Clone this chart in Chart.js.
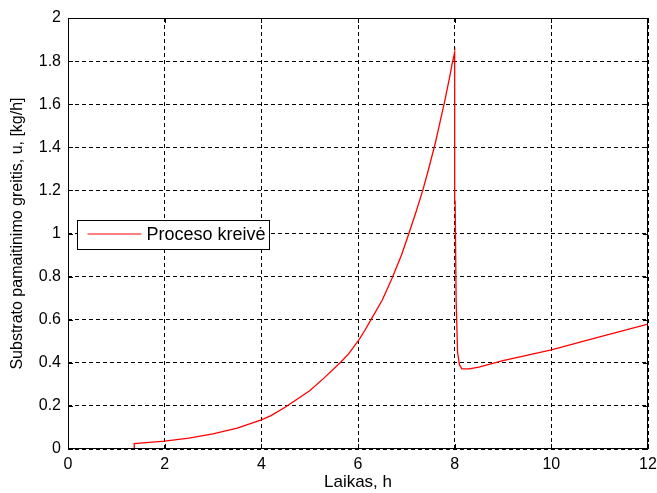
<!DOCTYPE html>
<html>
<head>
<meta charset="utf-8">
<script src="https://cdn.jsdelivr.net/npm/chart.js@4.4.1/dist/chart.umd.min.js"></script>
<style>
  html, body { margin: 0; padding: 0; background: #fff; }
  #wrap { width: 657px; height: 493px; }
</style>
</head>
<body>
<div id="wrap"><canvas id="c" width="657" height="493"></canvas></div>
<script>
// Feed rate over time (hours, kg/h)
const timeH = [0, 1.37, 1.37, 2, 2.5, 3, 3.5, 4, 4.2, 4.5, 5, 5.3, 5.63, 5.8, 6, 6.1, 6.27, 6.5, 6.7, 6.9, 7.03, 7.2, 7.34, 7.45, 7.6, 7.7, 7.8, 7.9, 7.95, 8.0,
               8.0, 8.01, 8.03, 8.06, 8.1, 8.15, 8.3, 8.5, 9, 10, 11, 12];
const feedRate = [0, 0, 0.025, 0.037, 0.05, 0.07, 0.097, 0.135, 0.155, 0.195, 0.27, 0.33, 0.4, 0.44, 0.5, 0.535, 0.6, 0.69, 0.79, 0.9, 0.985, 1.1, 1.2, 1.29, 1.42, 1.52, 1.62, 1.73, 1.79, 1.84,
                  1.15, 1.15, 0.69, 0.45, 0.39, 0.372, 0.372, 0.38, 0.41, 0.46, 0.52, 0.58];
const xTicks = [0, 2, 4, 6, 8, 10, 12];
const yTicks = [0, 0.2, 0.4, 0.6, 0.8, 1, 1.2, 1.4, 1.6, 1.8, 2];
const seriesLabel = 'Proceso kreivė';
const xTitle = 'Laikas, h';
const yTitle = 'Substrato pamaitinimo greitis, u, [kg/h]';

const points = timeH.map((t, i) => ({ x: t, y: feedRate[i] }));
const FONT = 'Liberation Sans, Arial, sans-serif';

// Solid frame, inward tick marks and a boxed legend inside the axes
const framePlugin = {
  id: 'frame',
  afterDraw(chart) {
    const { ctx, chartArea: a, scales } = chart;
    ctx.save();
    ctx.strokeStyle = '#000';
    ctx.lineWidth = 1;
    ctx.setLineDash([]);
    ctx.strokeRect(a.left + 0.5, a.top + 0.5, a.right - a.left - 1, a.bottom - a.top - 1);
    const tl = 5;
    ctx.beginPath();
    xTicks.forEach(v => {
      const px = Math.round(scales.x.getPixelForValue(v)) + 0.5;
      ctx.moveTo(px, a.bottom); ctx.lineTo(px, a.bottom - tl);
      ctx.moveTo(px, a.top); ctx.lineTo(px, a.top + tl);
    });
    yTicks.forEach(v => {
      const py = Math.round(scales.y.getPixelForValue(v)) + 0.5;
      ctx.moveTo(a.left, py); ctx.lineTo(a.left + tl, py);
      ctx.moveTo(a.right, py); ctx.lineTo(a.right - tl, py);
    });
    ctx.stroke();

    // legend box
    const lx = a.left + 9.5, ly = a.top + 202.5, lw = 192, lh = 29;
    ctx.fillStyle = '#fff';
    ctx.fillRect(lx, ly, lw, lh);
    ctx.strokeRect(lx, ly, lw, lh);
    ctx.strokeStyle = '#ff0000';
    ctx.beginPath();
    ctx.moveTo(lx + 10, ly + 13.5); ctx.lineTo(lx + 64, ly + 13.5);
    ctx.stroke();
    ctx.fillStyle = '#000';
    ctx.font = '18px ' + FONT;
    ctx.textBaseline = 'middle';
    ctx.textAlign = 'left';
    ctx.fillText(chart.data.datasets[0].label, lx + 69, ly + 14.5);
    ctx.restore();
  }
};

new Chart(document.getElementById('c'), {
  type: 'line',
  data: {
    datasets: [{
      label: seriesLabel,
      data: points,
      borderColor: '#ff0000',
      borderWidth: 1.3,
      pointRadius: 0,
      tension: 0,
      fill: false
    }]
  },
  options: {
    responsive: false,
    animation: false,
    devicePixelRatio: 1,
    layout: { padding: { top: 18, right: 9, left: 0, bottom: 0 } },
    plugins: { legend: { display: false }, tooltip: { enabled: false } },
    scales: {
      x: {
        type: 'linear',
        min: 0, max: 12,
        afterBuildTicks: s => { s.ticks = xTicks.map(v => ({ value: v })); },
        afterFit: s => { s.height = 44; s.paddingLeft = 0; s.paddingRight = 0; },
        border: { display: false, dash: [4, 3] },
        grid: { color: '#000', lineWidth: 1, drawTicks: false },
        ticks: { color: '#000', font: { family: FONT, size: 16 }, padding: 6, maxRotation: 0 },
        title: { display: true, text: xTitle, color: '#000', font: { family: FONT, size: 17 }, padding: { top: 2, bottom: 0 } }
      },
      y: {
        type: 'linear',
        min: 0, max: 2,
        afterBuildTicks: s => { s.ticks = yTicks.map(v => ({ value: v })); },
        afterFit: s => { s.width = 68; s.paddingTop = 0; s.paddingBottom = 0; },
        border: { display: false, dash: [4, 3] },
        grid: { color: '#000', lineWidth: 1, drawTicks: false },
        ticks: {
          color: '#000', font: { family: FONT, size: 16 }, padding: 7,
          callback: v => String(Number(v.toFixed(1)))
        },
        title: { display: true, text: yTitle, color: '#000', font: { family: FONT, size: 16 }, padding: { top: 8, bottom: 0 } }
      }
    }
  },
  plugins: [framePlugin]
});
</script>
</body>
</html>
